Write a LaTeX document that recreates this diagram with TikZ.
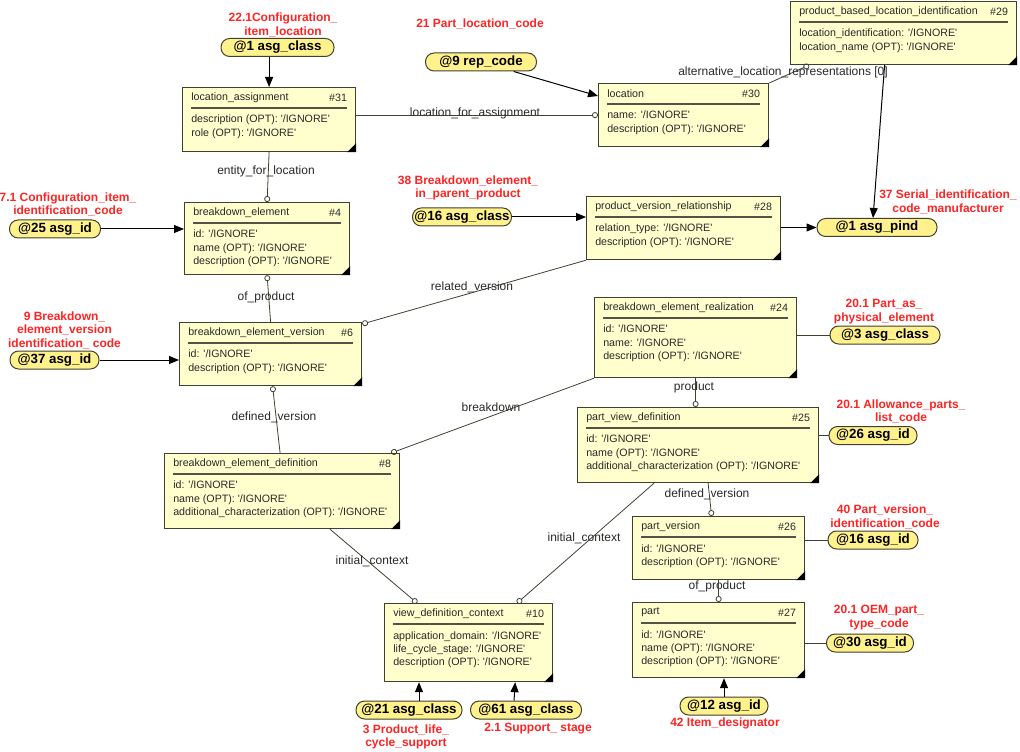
\documentclass[tikz,border=0pt]{standalone}
\usepackage{fontspec}
\setmainfont{Liberation Sans}[Ligatures=TeXOff]
\usetikzlibrary{arrows.meta,calc}

\definecolor{entfill}{RGB}{255,255,206}
\definecolor{pillfill}{RGB}{255,242,140}
\definecolor{linecol}{RGB}{64,64,48}
\definecolor{notered}{RGB}{255,36,36}
\definecolor{textcol}{RGB}{40,40,40}

% entity box: name, x, y, width, height, title, number, attributes
\newcommand{\entity}[8]{%
  \node [entbox, minimum width=#4*0.75pt, minimum height=#5*0.75pt] (#1) at (#2,#3) {};
  \fill [black] (#1.south east) -- ++(-9,0) -- ++(9,-9) -- cycle;
  \path (#1.north west) ++(9,10.5) node [enttext, anchor=west] (#1-title) {#6};
  \path (#1.north east) ++(-9,10.5) node [enttext, anchor=east] (#1-num) {\##7};
  \draw [entrule] (#1.north west) ++(9,21) -- ($(#1.north east)+(-9,21)$);
  \path (#1.north west) ++(9,28) node [enttext, anchor=north west, align=left] (#1-attr) {#8};
}

\begin{document}
\begin{tikzpicture}[x=0.75pt, y=-0.75pt,
  entbox/.style={draw=linecol, fill=entfill, line width=0.9pt, anchor=north west, inner sep=0pt},
  enttext/.style={font=\fontsize{8}{10.1}\selectfont, text=textcol, inner sep=0pt},
  entrule/.style={draw=linecol!90, line width=0.9pt},
  pill/.style={draw=linecol, fill=pillfill, line width=0.75pt, rounded corners=6.5pt,
    minimum height=13.5pt, minimum width=#1*0.75pt, inner sep=0pt,
    font=\bfseries\fontsize{10}{12}\selectfont},
  note/.style={text=notered, align=center, font=\bfseries\fontsize{9}{10.1}\selectfont, inner sep=0pt},
  role/.style={text=textcol, font=\fontsize{9}{10}\selectfont, inner sep=0pt},
  conn/.style={draw=linecol, line width=0.6pt},
  toent/.style={conn, -{Circle[open, length=4.5pt]}},
  froment/.style={conn, {Circle[open, length=4.5pt]}-},
  arr/.style={draw=black, line width=0.75pt, -{Triangle[length=7.5pt, width=6pt]}}]

\path [use as bounding box] (0,0) rectangle (1020,752);

% ENTITIES
\entity{locasg}{182}{87}{173}{64}{location\_assignment}{31}{description (OPT): '/IGNORE'\\role (OPT): '/IGNORE'}
\entity{loc}{598}{83}{170}{63}{location}{30}{name: '/IGNORE'\\description (OPT): '/IGNORE'}
\entity{pbli}{790}{1}{226}{63}{product\_based\_location\_identification}{29}{location\_identification: '/IGNORE'\\location\_name (OPT): '/IGNORE'}
\entity{be}{184}{202}{165}{72}{breakdown\_element}{4}{id: '/IGNORE'\\name (OPT): '/IGNORE'\\description (OPT): '/IGNORE'}
\entity{pvr}{586}{196}{194}{63}{product\_version\_relationship}{28}{relation\_type: '/IGNORE'\\description (OPT): '/IGNORE'}
\entity{bev}{179}{322}{182}{63}{breakdown\_element\_version}{6}{id: '/IGNORE'\\description (OPT): '/IGNORE'}
\entity{ber}{594}{297}{202}{80}{breakdown\_element\_realization}{24}{id: '/IGNORE'\\name: '/IGNORE'\\description (OPT): '/IGNORE'}
\entity{pvd}{577}{407}{241}{75}{part\_view\_definition}{25}{id: '/IGNORE'\\name (OPT): '/IGNORE'\\additional\_characterization (OPT): '/IGNORE'}
\entity{bed}{164}{453}{235}{75}{breakdown\_element\_definition}{8}{id: '/IGNORE'\\name (OPT): '/IGNORE'\\additional\_characterization (OPT): '/IGNORE'}
\entity{pv}{632}{516}{172}{63}{part\_version}{26}{id: '/IGNORE'\\description (OPT): '/IGNORE'}
\entity{part}{632}{602}{172}{75}{part}{27}{id: '/IGNORE'\\name (OPT): '/IGNORE'\\description (OPT): '/IGNORE'}
\entity{vdc}{384}{603}{168}{78}{view\_definition\_context}{10}{application\_domain: '/IGNORE'\\life\_cycle\_stage: '/IGNORE'\\description (OPT): '/IGNORE'}

% ASG NODES
\node [pill=113] (cls1) at (277.5,47.5) {@1 asg\_class};
\node [pill=111] (rep9) at (481,62) {@9 rep\_code};
\node [pill=91] (id25) at (55,229) {@25 asg\_id};
\node [pill=99] (cls16) at (462,217) {@16 asg\_class};
\node [pill=120] (pind1) at (877,227.5) {@1 asg\_pind};
\node [pill=89] (id37) at (54.5,360) {@37 asg\_id};
\node [pill=110] (cls3) at (885,335) {@3 asg\_class};
\node [pill=88] (id26) at (873,435.5) {@26 asg\_id};
\node [pill=90] (id16) at (873,540) {@16 asg\_id};
\node [pill=87] (id30) at (870,643) {@30 asg\_id};
\node [pill=88] (id12) at (724,706) {@12 asg\_id};
\node [pill=106] (cls21) at (409,710) {@21 asg\_class};
\node [pill=111] (cls61) at (526,710) {@61 asg\_class};

% NOTES
\node [note] (n-cls1) at (283,25) {22.1Configuration\_\\item\_location};
\node [note] (n-rep9) at (480,24) {21 Part\_location\_code};
\node [note] (n-id25) at (68,204.5) {7.1 Configuration\_item\_\\identification\_code};
\node [note] (n-cls16) at (468,188) {38 Breakdown\_element\_\\in\_parent\_product};
\node [note] (n-pind1) at (948,202) {37 Serial\_identification\_\\code\_manufacturer};
\node [note] (n-id37) at (64.5,330) {9 Breakdown\_\\element\_version\\identification\_ code};
\node [note] (n-cls3) at (884,311.5) {20.1 Part\_as\_\\physical\_element};
\node [note] (n-id26) at (901,411.5) {20.1 Allowance\_parts\_\\list\_code};
\node [note] (n-id16) at (885,517) {40 Part\_version\_\\identification\_code};
\node [note] (n-id30) at (879,617.5) {20.1 OEM\_part\_\\type\_code};
\node [note] (n-id12) at (725,723) {42 Item\_designator};
\node [note] (n-cls21) at (406,737) {3 Product\_life\_\\cycle\_support};
\node [note] (n-cls61) at (538,729) {2.1 Support\_ stage};

% ROLES
\node [role] (r-lfa) at (475,113) {location\_for\_assignment};
\node [role] (r-efl) at (266,171) {entity\_for\_location};
\node [role] (r-alr) at (783,72) {alternative\_location\_representations [0]};
\node [role] (r-op1) at (266,297) {of\_product};
\node [role] (r-rv) at (472,287) {related\_version};
\node [role] (r-dv1) at (274,417) {defined\_version};
\node [role] (r-bd) at (491,407) {breakdown};
\node [role] (r-prod) at (694,387) {product};
\node [role] (r-dv2) at (707,494) {defined\_version};
\node [role] (r-ic1) at (584,538) {initial\_context};
\node [role] (r-ic2) at (372,561) {initial\_context};
\node [role] (r-op2) at (717,586) {of\_product};

% CONNECTORS
\draw [arr] (cls1.south -| locasg.north) -- (locasg.north);
\draw [toent] (locasg.east |- loc.west) -- (loc.west);
\draw [toent] (locasg.south) -- (be.north);
\draw [arr] (rep9) -- ($(loc.north west)+(0,13)$);
\draw [toent] (loc.north east) -- ($(pbli.south west)+(19,0)$);
\draw [arr] ($(pbli.south)+(-19,0)$) -- ($(pind1.north)+(-4,0)$);
\draw [arr] (id25) -- (be.west |- id25);
\draw [froment] (be.south) -- (bev.north);
\draw [arr] (cls16) -- (pvr.west |- cls16);
\draw [arr] (pvr.east |- pind1) -- (pind1);
\draw [toent] (pvr.south west) -- ($(bev.north east)+(0,2)$);
\draw [arr] (id37) -- (bev.west |- id37);
\draw [froment] ($(bev.south)+(2,0)$) -- ($(bed.north)+(-2,0)$);
\draw [toent] (ber.south west) -- ($(bed.north east)+(-9,0)$);
\draw [conn] (ber.east |- cls3) -- (cls3);
\draw [toent] (ber.south) -- (ber.south |- pvd.north);
\draw [conn] (pvd.east |- id26) -- (id26);
\draw [toent] ($(pvd.south)+(10,0)$) -- ($(pv.north)+(-7,0)$);
\draw [toent] ($(pvd.south west)+(77,0)$) -- ($(vdc.north east)+(-36,0)$);
\draw [toent] ($(bed.south west)+(166,0)$) -- ($(vdc.north west)+(33,0)$);
\draw [conn] (pv.east |- id16) -- (id16);
\draw [toent] (pv.south) -- (pv.south |- part.north);
\draw [conn] (part.east |- id30) -- (id30);
\draw [arr] (id12) -- (id12 |- part.south);
\draw [arr] ($(cls21.north)+(10,0)$) -- ($(vdc.south west)+(35,0)$);
\draw [arr] ($(cls61.north)+(-12,0)$) -- ($(vdc.south east)+(-38,0)$);

\end{tikzpicture}
\end{document}
